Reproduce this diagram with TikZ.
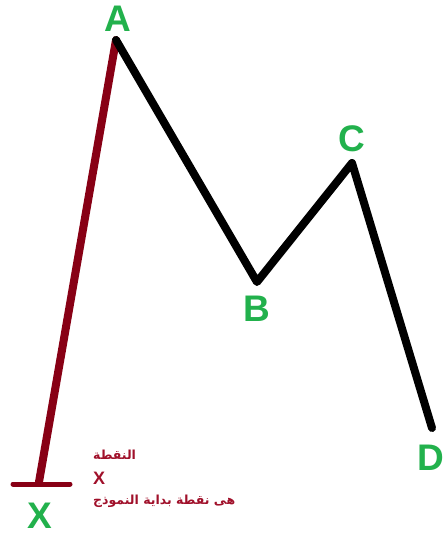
\documentclass[tikz,border=0pt]{standalone}
\usepackage{fontspec}
\setmainfont{Liberation Sans}
\newfontfamily\arabicfont[Script=Arabic]{DejaVu Sans}
\TeXXeTstate=1
\definecolor{ptgreen}{HTML}{22B14C}
\definecolor{maroon}{HTML}{880015}
\definecolor{txtred}{HTML}{A0102A}
\begin{document}
\begin{tikzpicture}[x=1pt,y=-1pt,
  lbl/.style={text=ptgreen,font=\fontsize{37}{37}\selectfont\bfseries,inner sep=0pt},
  note/.style={text=txtred,font=\arabicfont\bfseries\fontsize{12.5}{12.5}\selectfont,inner sep=0pt,anchor=west},
  wave/.style={line width=8pt,line cap=round,line join=round}]
\useasboundingbox (0,0) rectangle (446,536);
\coordinate (X) at (39,482);
\coordinate (A) at (116,40);
\coordinate (B) at (257,282);
\coordinate (C) at (352,163);
\coordinate (D) at (432,428);
\coordinate (bl) at (13,484);
\coordinate (br) at (70,484);
\draw[maroon,line width=5pt,line cap=round] (bl) -- (br);
\draw[maroon,wave] (X) -- (A);
\draw[black,wave] (A) -- (B) -- (C) -- (D);
\node[lbl] (lA) at (118,19) {A};
\node[lbl] (lB) at (257,309) {B};
\node[lbl] (lC) at (352,139) {C};
\node[lbl] (lD) at (431,458) {D};
\node[lbl] (lX) at (40,516) {X};
\node[note] (n1) at (93,455) {\beginR النقطة\endR};
\node[note,font=\fontsize{18}{18}\selectfont\bfseries] (n2) at (93,478) {X};
\node[note] (n3) at (93,501) {\beginR هى نقطة بداية النموذج\endR};
\end{tikzpicture}
\end{document}
